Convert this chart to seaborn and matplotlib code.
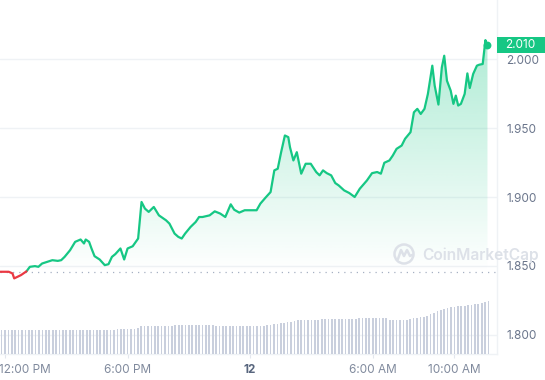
import numpy as np
import pandas as pd
import matplotlib
matplotlib.use("Agg")
import matplotlib.pyplot as plt
import matplotlib.patches as mpatches
from matplotlib.colors import to_rgb
from matplotlib.lines import Line2D
from matplotlib.transforms import IdentityTransform, blended_transform_factory, ScaledTranslation
import seaborn as sns

sns.set_theme(style="white")
plt.rcParams["font.family"] = ["Inter", "DejaVu Sans"]

# price: minutes after 12:00 PM on the 11th
minutes = [
    -14, 11, 22, 27, 37, 47, 57, 63, 73, 88,
    98, 109, 124, 139, 155, 165, 175, 191, 206, 222,
    232, 237, 247, 254, 263, 278, 293, 304, 314, 324,
    339, 350, 360, 375, 391, 401, 411, 422, 437, 452,
    473, 483, 498, 509, 519, 529, 545, 560, 570, 580,
    601, 616, 632, 647, 663, 673, 688, 704, 724, 739,
    750, 765, 780, 791, 801, 811, 822, 832, 837, 847,
    857, 870, 883, 898, 914, 924, 934, 945, 958, 970,
    980, 996, 1011, 1027, 1042, 1063, 1078, 1093, 1104, 1114,
    1129, 1139, 1150, 1165, 1175, 1191, 1201, 1211, 1221, 1232,
    1242, 1255, 1262, 1273, 1283, 1290, 1298, 1309, 1317, 1324,
    1331, 1339, 1350, 1358, 1365, 1375, 1386, 1393, 1403, 1411,
    1414, 1417,
]
prices = [
    1.8458, 1.8458, 1.8446, 1.8410, 1.8422, 1.8434, 1.8451, 1.8461, 1.8494, 1.8499,
    1.8494, 1.8518, 1.8530, 1.8542, 1.8537, 1.8542, 1.8566, 1.8614, 1.8675, 1.8692,
    1.8663, 1.8692, 1.8675, 1.8627, 1.8571, 1.8547, 1.8506, 1.8513, 1.8566, 1.8586,
    1.8627, 1.8547, 1.8627, 1.8643, 1.8699, 1.8964, 1.8916, 1.8892, 1.8928, 1.8867,
    1.8831, 1.8807, 1.8735, 1.8711, 1.8699, 1.8735, 1.8783, 1.8819, 1.8855, 1.8855,
    1.8867, 1.8896, 1.8880, 1.8855, 1.8947, 1.8908, 1.8887, 1.8904, 1.8904, 1.8904,
    1.8952, 1.8995, 1.9036, 1.9193, 1.9205, 1.9325, 1.9446, 1.9434, 1.9361, 1.9265,
    1.9325, 1.9169, 1.9241, 1.9241, 1.9181, 1.9157, 1.9193, 1.9173, 1.9157, 1.9101,
    1.9084, 1.9048, 1.9029, 1.9000, 1.9060, 1.9120, 1.9173, 1.9181, 1.9169, 1.9248,
    1.9265, 1.9301, 1.9349, 1.9373, 1.9422, 1.9470, 1.9614, 1.9639, 1.9602, 1.9639,
    1.9747, 1.9952, 1.9807, 1.9670, 1.9940, 2.0024, 1.9843, 1.9771, 1.9675, 1.9735,
    1.9663, 1.9675, 1.9747, 1.9896, 1.9790, 1.9892, 1.9952, 1.9959, 1.9964, 2.0137,
    2.0113, 2.0104,
]
open_price = 1.8460

# volume bars, one per 10 minutes starting 11:50 AM (height units)
volume = [
    24, 24, 24, 24, 24, 24, 24, 24, 24, 24, 24, 24,
    24, 24, 24, 24, 24, 24, 24, 24, 24, 24, 24, 24,
    24, 24, 24, 24, 24, 24, 24, 24, 24, 24, 25.5, 25.5,
    25.5, 25.5, 25.5, 25.5, 26, 28, 28, 28, 28, 28, 28, 28,
    28, 28, 28, 29, 29, 29, 29, 29, 29, 29, 29, 29,
    29, 29, 29, 28.5, 28.5, 28.5, 28.5, 28.5, 28.5, 28.5, 28.5, 28.5,
    28.5, 28.5, 28, 28, 28, 28.5, 29, 29.5, 30, 30.5, 31, 31.5,
    32, 32.5, 33, 34, 34.5, 34.5, 34.5, 34.5, 34.5, 34.5, 35, 35,
    35, 35, 35, 35, 35, 35, 35, 35.5, 35.5, 36, 36, 36,
    36, 36, 36, 36, 36, 36, 34, 34, 34, 34, 34, 34.5,
    35.5, 36, 36.5, 37, 37.5, 38.5, 40, 41.5, 43, 44, 45, 46,
    47, 47.5, 48, 48, 48.5, 49, 49.5, 50, 50.5, 51, 52, 53,
]

tick_minutes = [0, 360, 720, 1080, 1320]
tick_labels = ["12:00 PM", "6:00 PM", "12", "6:00 AM", "10:00 AM"]
grid_prices = [1.80, 1.85, 1.90, 1.95, 2.00]

GREEN = "#16c784"
RED = "#ea3943"
BAR = "#c9cfdd"
GRID = "#eff2f5"

df = pd.DataFrame({"minute": minutes, "price": prices})
n_red = int(np.argmax(df["price"].values >= open_price))
red_df = df.iloc[: n_red + 1]
green_df = df.iloc[n_red:]

vol_df = pd.DataFrame({"minute": np.arange(-10, 1430, 10), "volume": volume})

fig = plt.figure(figsize=(5.45, 3.8), dpi=100)
ax = fig.add_axes([0, 26 / 380, 497 / 545, 354 / 380])

# gradient fill under the green line
poly = ax.fill_between(green_df["minute"], green_df["price"], open_price,
                       facecolor="none", edgecolor="none")
grad = np.zeros((256, 1, 4))
grad[..., :3] = to_rgb(GREEN)
grad[:, 0, 3] = np.linspace(0.34, 0.0, 256)
im = ax.imshow(grad, aspect="auto", origin="upper", zorder=1,
               extent=[green_df["minute"].min(), green_df["minute"].max(),
                       open_price, green_df["price"].max()])
im.set_clip_path(poly.get_paths()[0], transform=ax.transData)

ax.axhline(open_price, color="#a6b0c3", lw=0.9, ls=(0, (1, 4)), zorder=2)

sns.lineplot(data=green_df, x="minute", y="price", color=GREEN, lw=1.6, ax=ax, zorder=4)
sns.lineplot(data=red_df, x="minute", y="price", color=RED, lw=1.6, ax=ax, zorder=4)
last = df.iloc[-1]
ax.scatter([last["minute"]], [last["price"]], s=32, color=GREEN, zorder=5, linewidths=0)

# volume on a twin axis
ax2 = ax.twinx()
sns.histplot(data=vol_df, x="minute", weights="volume", binwidth=10, binrange=(-15, 1425),
             shrink=0.5, color=BAR, alpha=1, linewidth=0, ax=ax2)
ax2.set_ylim(0, 354)
ax2.set_yticks([])
ax2.set_ylabel("")
for s in ax2.spines.values():
    s.set_visible(False)

ax.set_xlim(-14.7, 1445)
ax.set_ylim(1.7862, 2.0428)
ax.set_xlabel("")
ax.set_ylabel("")

ax.set_yticks(grid_prices)
ax.set_yticklabels([f"{p:.3f}" for p in grid_prices])
ax.yaxis.tick_right()
ax.yaxis.grid(True, color=GRID, lw=1)
ax.xaxis.grid(False)
ax.tick_params(axis="y", length=0, pad=6.5, labelsize=8.5, labelcolor="#6b768c")

ax.set_xticks(tick_minutes)
ax.set_xticklabels(tick_labels)
ax.tick_params(axis="x", length=3, width=0.8, color="#e3e7ee", labelsize=8.5,
               labelcolor="#808a9d", pad=4, bottom=True)
xl = ax.get_xticklabels()
xl[2].set_fontweight("bold")
xl[2].set_color("#58667e")
xl[0].set_ha("left")
xl[0].set_transform(xl[0].get_transform() + ScaledTranslation(-4 / 72, 0, fig.dpi_scale_trans))

for s in ["top", "left"]:
    ax.spines[s].set_visible(False)
for s in ["right", "bottom"]:
    ax.spines[s].set_color(GRID)
    ax.spines[s].set_linewidth(1)

# current price tag
blend = blended_transform_factory(ax.transAxes, ax.transData)
h = 16 / 1380
ax.add_patch(mpatches.Rectangle((1.0, last["price"] - h / 2), 50 / 497, h, transform=blend,
                                clip_on=False, facecolor=GREEN, edgecolor="none", zorder=6))
ax.text(1.0 + 23 / 497, last["price"], f"{last['price']:.3f}", transform=blend, color="white",
        fontsize=8.5, ha="center", va="center", zorder=7, clip_on=False)

# watermark
WM = "#dde1e8"
fig.text(422 / 545, 1 - 255 / 380, "CoinMarketCap", fontsize=11.2, fontweight="semibold",
         color=WM, ha="left", va="center")
fig.add_artist(mpatches.Circle((404, 380 - 254), 9.5, transform=IdentityTransform(),
                               fill=False, edgecolor=WM, lw=1.8))
fig.add_artist(Line2D([398, 401, 404, 407, 410, 412], [380 - 259, 380 - 250, 380 - 256,
                      380 - 250, 380 - 256, 380 - 255], transform=IdentityTransform(),
                      color=WM, lw=1.8))

fig.savefig("out.png", dpi=100)
